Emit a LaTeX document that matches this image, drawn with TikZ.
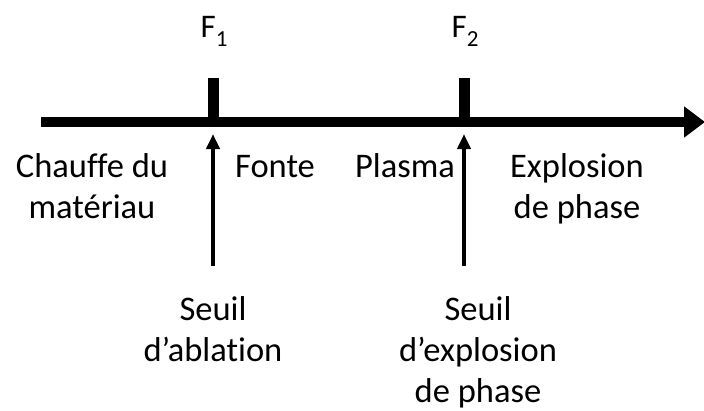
\documentclass[tikz,border=0pt]{standalone}
\usepackage{fontspec}
\setmainfont{Carlito}[Ligatures={NoCommon}]
\usetikzlibrary{arrows.meta}
\tikzset{
  lbl/.style={font=\fontsize{34.5}{41}\selectfont, align=center, anchor=base, inner sep=0pt},
  flbl/.style={font=\fontsize{33}{41}\selectfont, anchor=base, inner sep=0pt},
  axis/.style={line width=10pt, -{Triangle[width=30pt,length=21pt]}},
  tick/.style={line width=11pt},
  up/.style={line width=4pt, -{Triangle[width=13pt,length=15pt]}},
}
\newcommand{\subsc}[1]{\raisebox{-9pt}{\fontsize{23}{23}\selectfont #1}}
\begin{document}
\begin{tikzpicture}[x=1pt,y=-1pt]
\useasboundingbox (0,0) rectangle (704,410);
% axis
\coordinate (a0) at (41,122);
\coordinate (a1) at (705,122);
\draw[axis] (a0) -- (a1);
% ticks
\coordinate (t1b) at (213.5,122);
\coordinate (t1t) at (213.5,78);
\coordinate (t2b) at (464,122);
\coordinate (t2t) at (464,78);
\draw[tick] (t1b) -- (t1t);
\draw[tick] (t2b) -- (t2t);
% tick labels
\node[flbl] (f1) at (214,37) {F\subsc{1}};
\node[flbl] (f2) at (465,37) {F\subsc{2}};
% phase labels (base = last line)
\node[lbl] (chauffe) at (92,218) {Chauffe du\\matériau};
\node[lbl] (fonte) at (275,177) {Fonte};
\node[lbl] (plasma) at (405,177) {Plasma};
\node[lbl] (explo) at (577,218) {Explosion\\de phase};
% threshold labels
\node[lbl] (s1) at (213,361) {Seuil\\d’ablation};
\node[lbl] (s2) at (478,402) {Seuil\\d’explosion\\de phase};
% arrows
\coordinate (u1) at (213,266);
\coordinate (u1t) at (213,134);
\coordinate (u2) at (464,266);
\coordinate (u2t) at (464,134);
\draw[up] (u1) -- (u1t);
\draw[up] (u2) -- (u2t);
\end{tikzpicture}
\end{document}
